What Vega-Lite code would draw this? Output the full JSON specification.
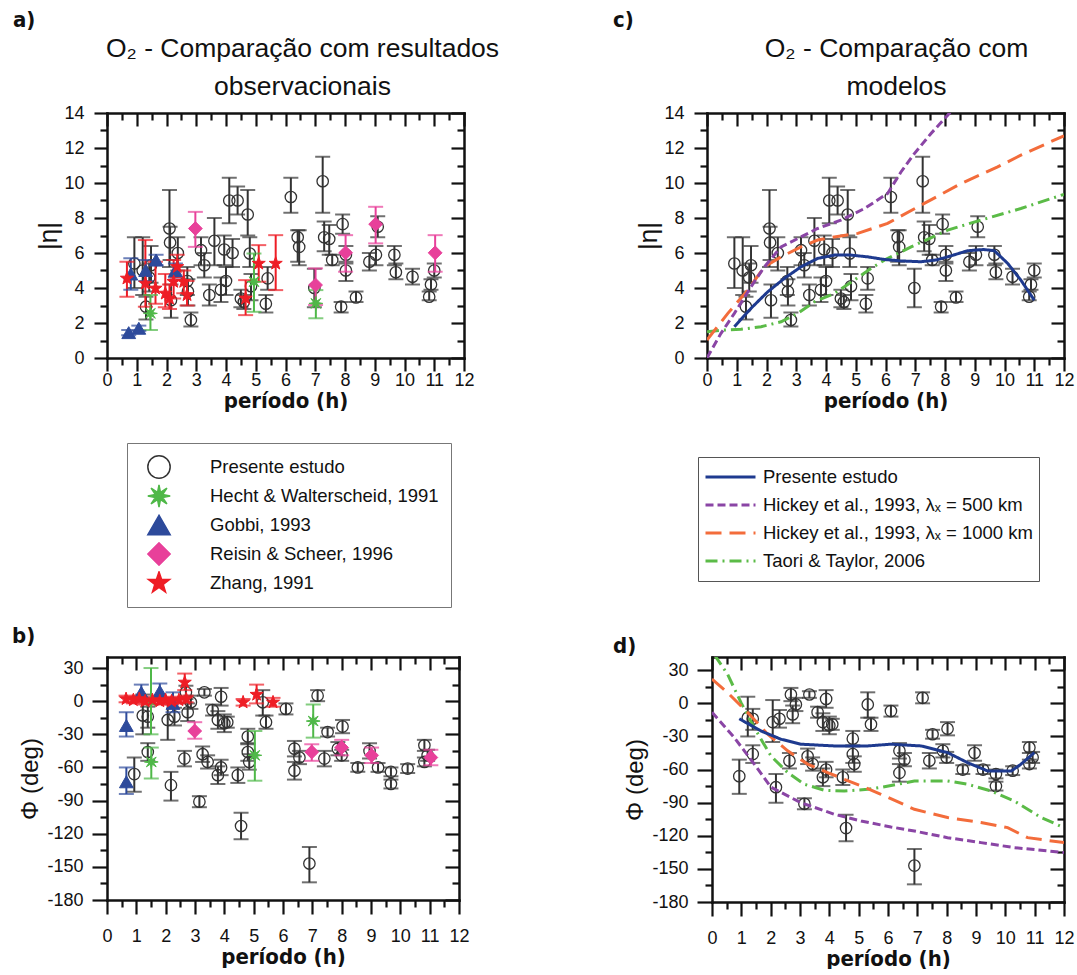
{
"$schema": "https://vega.github.io/schema/vega-lite/v6.json",
"background": "white",
"padding": {"left": 12, "top": 8, "right": 0, "bottom": 0},
"config": {"view": {"stroke": null}, "axis": {"grid": false}, "font": "Liberation Sans"},
"datasets": {
"ampPS": [
{"x":0.92,"y":5.4,"lo":4.0,"hi":6.9},{"x":1.2,"y":5.0,"lo":3.6,"hi":6.9},{"x":1.31,"y":2.93,"lo":2.2,"hi":3.5},{"x":1.42,"y":4.6,"lo":3.8,"hi":5.4},{"x":1.48,"y":5.3,"lo":4.3,"hi":6.4},
{"x":2.1,"y":7.4,"lo":5.2,"hi":9.6},{"x":2.12,"y":6.6,"lo":5.6,"hi":7.5},{"x":2.15,"y":3.3,"lo":2.3,"hi":4.2},{"x":2.38,"y":6.0,"lo":5.0,"hi":6.9},{"x":2.7,"y":4.4,"lo":3.6,"hi":5.2},
{"x":2.72,"y":3.8,"lo":3.0,"hi":4.5},{"x":2.82,"y":2.17,"lo":1.8,"hi":2.6},{"x":3.16,"y":6.16,"lo":5.3,"hi":6.9},{"x":3.27,"y":5.3,"lo":4.6,"hi":6.0},{"x":3.44,"y":3.6,"lo":3.0,"hi":4.2},
{"x":3.61,"y":6.7,"lo":5.3,"hi":8.0},{"x":3.83,"y":3.9,"lo":3.2,"hi":4.6},{"x":3.94,"y":6.2,"lo":5.3,"hi":7.0},{"x":4.0,"y":4.4,"lo":3.6,"hi":5.2},{"x":4.11,"y":9.0,"lo":7.7,"hi":10.3},
{"x":4.22,"y":6.0,"lo":5.2,"hi":6.8},{"x":4.39,"y":9.0,"lo":8.2,"hi":9.8},{"x":4.5,"y":3.4,"lo":2.9,"hi":3.9},{"x":4.6,"y":3.2,"lo":2.8,"hi":3.6},{"x":4.73,"y":8.2,"lo":7.0,"hi":9.6},
{"x":4.8,"y":5.97,"lo":5.2,"hi":6.9},{"x":4.84,"y":4.1,"lo":3.3,"hi":4.8},{"x":5.34,"y":3.1,"lo":2.6,"hi":3.6},{"x":5.4,"y":4.55,"lo":3.9,"hi":5.2},{"x":6.18,"y":9.2,"lo":8.3,"hi":10.3},
{"x":6.41,"y":6.9,"lo":5.5,"hi":7.3},{"x":6.46,"y":6.35,"lo":5.3,"hi":7.3},{"x":6.97,"y":4.0,"lo":2.9,"hi":5.1},{"x":7.25,"y":10.1,"lo":8.3,"hi":11.5},{"x":7.3,"y":6.9,"lo":6.1,"hi":7.8},
{"x":7.47,"y":6.8,"lo":5.9,"hi":7.6},{"x":7.57,"y":5.6,"lo":5.3,"hi":5.9},{"x":7.92,"y":7.65,"lo":7.1,"hi":8.2},{"x":8.03,"y":5.9,"lo":5.4,"hi":6.4},{"x":8.03,"y":5.0,"lo":4.4,"hi":5.5},
{"x":7.87,"y":2.93,"lo":2.6,"hi":3.2},{"x":8.37,"y":3.46,"lo":3.2,"hi":3.8},{"x":8.82,"y":5.5,"lo":5.0,"hi":6.0},{"x":9.04,"y":5.9,"lo":5.3,"hi":6.4},{"x":9.1,"y":7.5,"lo":6.9,"hi":8.1},
{"x":9.66,"y":5.9,"lo":5.3,"hi":6.4},{"x":9.71,"y":4.9,"lo":4.5,"hi":5.4},{"x":10.27,"y":4.64,"lo":4.2,"hi":5.1},{"x":10.89,"y":4.2,"lo":3.9,"hi":4.5},{"x":10.83,"y":3.5,"lo":3.3,"hi":3.8},
{"x":11.0,"y":5.0,"lo":4.6,"hi":5.4}
],
"phPS": [
{"x":0.93,"y":-66,"lo":-82,"hi":-51},{"x":1.22,"y":-13,"lo":-30,"hi":6},{"x":1.39,"y":-14,"lo":-24,"hi":-5},{"x":1.39,"y":-46,"lo":-54,"hi":-38},{"x":2.07,"y":-17,"lo":-35,"hi":3},
{"x":2.3,"y":-14,"lo":-22,"hi":-6},{"x":2.18,"y":-76,"lo":-90,"hi":-64},{"x":2.64,"y":-52,"lo":-59,"hi":-45},{"x":2.69,"y":8,"lo":2,"hi":14},{"x":2.86,"y":-1,"lo":-7,"hi":5},
{"x":2.75,"y":-10,"lo":-18,"hi":-2},{"x":3.15,"y":-91,"lo":-96,"hi":-86},{"x":3.26,"y":-48,"lo":-55,"hi":-41},{"x":3.32,"y":8,"lo":5,"hi":11},{"x":3.43,"y":-55,"lo":-61,"hi":-49},
{"x":3.6,"y":-8,"lo":-13,"hi":-3},{"x":3.89,"y":4,"lo":-4,"hi":12},{"x":3.78,"y":-17,"lo":-25,"hi":-9},{"x":3.78,"y":-67,"lo":-75,"hi":-59},{"x":3.89,"y":-60,"lo":-67,"hi":-53},
{"x":4.0,"y":-20,"lo":-28,"hi":-12},{"x":4.1,"y":-19,"lo":-24,"hi":-14},{"x":4.46,"y":-67,"lo":-74,"hi":-60},{"x":4.57,"y":-113,"lo":-125,"hi":-101},{"x":4.8,"y":-46,"lo":-54,"hi":-38},
{"x":4.85,"y":-55,"lo":-62,"hi":-48},{"x":4.8,"y":-32,"lo":-39,"hi":-25},{"x":5.31,"y":-1,"lo":-13,"hi":10},{"x":5.42,"y":-19,"lo":-25,"hi":-13},{"x":6.1,"y":-7,"lo":-12,"hi":-2},
{"x":6.39,"y":-43,"lo":-50,"hi":-36},{"x":6.56,"y":-51,"lo":-57,"hi":-45},{"x":6.39,"y":-63,"lo":-71,"hi":-55},{"x":6.9,"y":-147,"lo":-164,"hi":-132},{"x":7.18,"y":5,"lo":0,"hi":10},
{"x":7.41,"y":-52,"lo":-59,"hi":-45},{"x":7.52,"y":-28,"lo":-32,"hi":-24},{"x":8.03,"y":-23,"lo":-29,"hi":-17},{"x":7.87,"y":-43,"lo":-49,"hi":-37},{"x":8.0,"y":-49,"lo":-54,"hi":-44},
{"x":8.55,"y":-60,"lo":-64,"hi":-56},{"x":8.95,"y":-45,"lo":-52,"hi":-38},{"x":9.24,"y":-60,"lo":-64,"hi":-56},{"x":9.68,"y":-64,"lo":-68,"hi":-60},{"x":9.68,"y":-75,"lo":-79,"hi":-71},
{"x":10.25,"y":-61,"lo":-65,"hi":-57},{"x":10.82,"y":-40,"lo":-45,"hi":-35},{"x":10.93,"y":-49,"lo":-54,"hi":-44},{"x":10.82,"y":-55,"lo":-59,"hi":-51}
],
"ampObs": [
{"s":"Hecht & Walterscheid, 1991","x":1.46,"y":2.55,"lo":1.6,"hi":3.6},
{"s":"Hecht & Walterscheid, 1991","x":4.94,"y":4.36,"lo":2.64,"hi":5.97},
{"s":"Hecht & Walterscheid, 1991","x":7.02,"y":3.12,"lo":2.27,"hi":3.88},
{"s":"Gobbi, 1993","x":0.73,"y":1.45,"lo":1.3,"hi":1.6},
{"s":"Gobbi, 1993","x":1.07,"y":1.7,"lo":1.55,"hi":1.85},
{"s":"Gobbi, 1993","x":0.8,"y":4.8,"lo":3.9,"hi":5.7},
{"s":"Gobbi, 1993","x":1.3,"y":5.0,"lo":4.4,"hi":5.6},
{"s":"Gobbi, 1993","x":1.65,"y":5.6,"lo":5.3,"hi":5.9},
{"s":"Gobbi, 1993","x":2.3,"y":5.0,"lo":4.6,"hi":5.4},
{"s":"Reisin & Scheer, 1996","x":2.97,"y":7.4,"lo":6.35,"hi":8.35},
{"s":"Reisin & Scheer, 1996","x":7.01,"y":4.17,"lo":3.03,"hi":5.12},
{"s":"Reisin & Scheer, 1996","x":8.02,"y":6.01,"lo":4.93,"hi":7.02},
{"s":"Reisin & Scheer, 1996","x":9.03,"y":7.65,"lo":6.55,"hi":8.64},
{"s":"Reisin & Scheer, 1996","x":11.03,"y":6.01,"lo":4.93,"hi":7.02},
{"s":"Zhang, 1991","x":0.67,"y":4.55,"lo":3.5,"hi":5.5},
{"s":"Zhang, 1991","x":1.29,"y":4.26,"lo":2.93,"hi":6.74},
{"s":"Zhang, 1991","x":1.63,"y":3.98,"lo":3.1,"hi":5.5},
{"s":"Zhang, 1991","x":1.96,"y":3.69,"lo":2.9,"hi":4.8},
{"s":"Zhang, 1991","x":2.1,"y":3.4,"lo":2.8,"hi":4.2},
{"s":"Zhang, 1991","x":2.24,"y":4.36,"lo":3.4,"hi":5.6},
{"s":"Zhang, 1991","x":2.36,"y":5.21,"lo":4.6,"hi":5.9},
{"s":"Zhang, 1991","x":2.58,"y":4.36,"lo":3.7,"hi":5.0},
{"s":"Zhang, 1991","x":2.69,"y":3.6,"lo":3.0,"hi":4.4},
{"s":"Zhang, 1991","x":4.66,"y":3.41,"lo":2.45,"hi":4.45},
{"s":"Zhang, 1991","x":5.1,"y":5.4,"lo":4.36,"hi":6.45},
{"s":"Zhang, 1991","x":5.67,"y":5.4,"lo":3.88,"hi":7.02}
],
"phObs": [
{"s":"Hecht & Walterscheid, 1991","x":1.5,"y":0,"lo":-30,"hi":30},
{"s":"Hecht & Walterscheid, 1991","x":1.51,"y":-55,"lo":-70,"hi":-42},
{"s":"Hecht & Walterscheid, 1991","x":5.04,"y":-49,"lo":-72,"hi":-27},
{"s":"Hecht & Walterscheid, 1991","x":7.03,"y":-18,"lo":-33,"hi":-3},
{"s":"Gobbi, 1993","x":0.66,"y":-22,"lo":-32,"hi":-10},
{"s":"Gobbi, 1993","x":0.66,"y":-73,"lo":-84,"hi":-60},
{"s":"Gobbi, 1993","x":1.17,"y":8,"lo":2,"hi":15},
{"s":"Gobbi, 1993","x":1.8,"y":9,"lo":2,"hi":16},
{"s":"Gobbi, 1993","x":2.25,"y":-2,"lo":-10,"hi":8},
{"s":"Reisin & Scheer, 1996","x":2.99,"y":-27,"lo":-34,"hi":-19},
{"s":"Reisin & Scheer, 1996","x":6.98,"y":-46,"lo":-54,"hi":-39},
{"s":"Reisin & Scheer, 1996","x":8.0,"y":-42,"lo":-49,"hi":-35},
{"s":"Reisin & Scheer, 1996","x":9.02,"y":-49,"lo":-56,"hi":-42},
{"s":"Reisin & Scheer, 1996","x":11.04,"y":-51,"lo":-58,"hi":-44},
{"s":"Zhang, 1991","x":0.65,"y":2,"lo":-1,"hi":5},
{"s":"Zhang, 1991","x":0.9,"y":1,"lo":-2,"hi":4},
{"s":"Zhang, 1991","x":1.1,"y":2,"lo":-1,"hi":5},
{"s":"Zhang, 1991","x":1.3,"y":0,"lo":-3,"hi":3},
{"s":"Zhang, 1991","x":1.55,"y":1,"lo":-2,"hi":4},
{"s":"Zhang, 1991","x":1.8,"y":0,"lo":-3,"hi":3},
{"s":"Zhang, 1991","x":2.0,"y":1,"lo":-2,"hi":4},
{"s":"Zhang, 1991","x":2.2,"y":0,"lo":-3,"hi":3},
{"s":"Zhang, 1991","x":2.45,"y":1,"lo":-2,"hi":4},
{"s":"Zhang, 1991","x":2.65,"y":17,"lo":10,"hi":25},
{"s":"Zhang, 1991","x":2.7,"y":2,"lo":-1,"hi":5},
{"s":"Zhang, 1991","x":4.64,"y":-1,"lo":-4,"hi":2},
{"s":"Zhang, 1991","x":5.1,"y":6,"lo":-2,"hi":15},
{"s":"Zhang, 1991","x":5.66,"y":-1,"lo":-5,"hi":3}
],
"ampModel": [
{"m":"Taori & Taylor, 2006","x":0,"y":1.5},{"m":"Taori & Taylor, 2006","x":0.53,"y":1.6},{"m":"Taori & Taylor, 2006","x":1.14,"y":1.64},{"m":"Taori & Taylor, 2006","x":1.82,"y":1.79},{"m":"Taori & Taylor, 2006","x":2.49,"y":2.07},{"m":"Taori & Taylor, 2006","x":3.05,"y":2.55},{"m":"Taori & Taylor, 2006","x":3.61,"y":3.21},{"m":"Taori & Taylor, 2006","x":4.28,"y":3.69},{"m":"Taori & Taylor, 2006","x":4.95,"y":4.45},{"m":"Taori & Taylor, 2006","x":5.51,"y":5.12},{"m":"Taori & Taylor, 2006","x":5.96,"y":5.59},{"m":"Taori & Taylor, 2006","x":6.86,"y":6.35},{"m":"Taori & Taylor, 2006","x":8.09,"y":7.31},{"m":"Taori & Taylor, 2006","x":9.21,"y":7.88},{"m":"Taori & Taylor, 2006","x":10.55,"y":8.54},{"m":"Taori & Taylor, 2006","x":12,"y":9.35},
{"m":"Hickey et al., 1993, λₓ = 1000 km","x":0,"y":1.03},{"m":"Hickey et al., 1993, λₓ = 1000 km","x":0.7,"y":2.55},{"m":"Hickey et al., 1993, λₓ = 1000 km","x":1.37,"y":3.88},{"m":"Hickey et al., 1993, λₓ = 1000 km","x":1.93,"y":5.21},{"m":"Hickey et al., 1993, λₓ = 1000 km","x":2.49,"y":5.78},{"m":"Hickey et al., 1993, λₓ = 1000 km","x":3.16,"y":6.35},{"m":"Hickey et al., 1993, λₓ = 1000 km","x":3.72,"y":6.74},{"m":"Hickey et al., 1993, λₓ = 1000 km","x":4.28,"y":6.92},{"m":"Hickey et al., 1993, λₓ = 1000 km","x":5.07,"y":7.12},{"m":"Hickey et al., 1993, λₓ = 1000 km","x":6.07,"y":7.69},{"m":"Hickey et al., 1993, λₓ = 1000 km","x":7.19,"y":8.73},{"m":"Hickey et al., 1993, λₓ = 1000 km","x":8.54,"y":9.97},{"m":"Hickey et al., 1993, λₓ = 1000 km","x":9.77,"y":10.92},{"m":"Hickey et al., 1993, λₓ = 1000 km","x":10.55,"y":11.59},{"m":"Hickey et al., 1993, λₓ = 1000 km","x":12,"y":12.7},
{"m":"Hickey et al., 1993, λₓ = 500 km","x":0,"y":0},{"m":"Hickey et al., 1993, λₓ = 500 km","x":0.47,"y":1.41},{"m":"Hickey et al., 1993, λₓ = 500 km","x":0.92,"y":2.55},{"m":"Hickey et al., 1993, λₓ = 500 km","x":1.48,"y":4.07},{"m":"Hickey et al., 1993, λₓ = 500 km","x":1.93,"y":5.21},{"m":"Hickey et al., 1993, λₓ = 500 km","x":2.49,"y":6.35},{"m":"Hickey et al., 1993, λₓ = 500 km","x":3.16,"y":6.92},{"m":"Hickey et al., 1993, λₓ = 500 km","x":3.72,"y":7.4},{"m":"Hickey et al., 1993, λₓ = 500 km","x":4.5,"y":7.88},{"m":"Hickey et al., 1993, λₓ = 500 km","x":5.29,"y":8.54},{"m":"Hickey et al., 1993, λₓ = 500 km","x":6.07,"y":9.4},{"m":"Hickey et al., 1993, λₓ = 500 km","x":6.52,"y":10.63},{"m":"Hickey et al., 1993, λₓ = 500 km","x":6.97,"y":11.68},{"m":"Hickey et al., 1993, λₓ = 500 km","x":7.53,"y":12.83},{"m":"Hickey et al., 1993, λₓ = 500 km","x":8.09,"y":13.87},{"m":"Hickey et al., 1993, λₓ = 500 km","x":8.3,"y":14.3},
{"m":"Presente estudo","x":0.92,"y":1.79},{"m":"Presente estudo","x":1.48,"y":2.84},{"m":"Presente estudo","x":2.04,"y":3.78},{"m":"Presente estudo","x":2.6,"y":4.55},{"m":"Presente estudo","x":3.16,"y":5.21},{"m":"Presente estudo","x":3.72,"y":5.69},{"m":"Presente estudo","x":4.28,"y":5.88},{"m":"Presente estudo","x":4.84,"y":5.88},{"m":"Presente estudo","x":5.4,"y":5.78},{"m":"Presente estudo","x":5.96,"y":5.63},{"m":"Presente estudo","x":6.5,"y":5.55},{"m":"Presente estudo","x":7.19,"y":5.5},{"m":"Presente estudo","x":7.7,"y":5.6},{"m":"Presente estudo","x":8.09,"y":5.78},{"m":"Presente estudo","x":8.76,"y":6.13},{"m":"Presente estudo","x":9.3,"y":6.2},{"m":"Presente estudo","x":9.66,"y":6.13},{"m":"Presente estudo","x":10.11,"y":5.4},{"m":"Presente estudo","x":10.55,"y":4.45},{"m":"Presente estudo","x":11.0,"y":3.31}
],
"phModel": [
{"m":"Taori & Taylor, 2006","x":0.08,"y":44},{"m":"Taori & Taylor, 2006","x":0.53,"y":26.4},{"m":"Taori & Taylor, 2006","x":0.99,"y":0.7},{"m":"Taori & Taylor, 2006","x":1.44,"y":-22},{"m":"Taori & Taylor, 2006","x":2.01,"y":-47.7},{"m":"Taori & Taylor, 2006","x":2.58,"y":-62.7},{"m":"Taori & Taylor, 2006","x":3.15,"y":-73.3},{"m":"Taori & Taylor, 2006","x":3.83,"y":-78.8},{"m":"Taori & Taylor, 2006","x":4.51,"y":-79.4},{"m":"Taori & Taylor, 2006","x":5.31,"y":-77.9},{"m":"Taori & Taylor, 2006","x":5.82,"y":-75.8},{"m":"Taori & Taylor, 2006","x":6.33,"y":-73.3},{"m":"Taori & Taylor, 2006","x":6.9,"y":-70.3},{"m":"Taori & Taylor, 2006","x":8.03,"y":-70.3},{"m":"Taori & Taylor, 2006","x":8.71,"y":-73.3},{"m":"Taori & Taylor, 2006","x":9.51,"y":-79.4},{"m":"Taori & Taylor, 2006","x":10.3,"y":-88.4},{"m":"Taori & Taylor, 2006","x":11.22,"y":-103.5},{"m":"Taori & Taylor, 2006","x":12,"y":-112.6},
{"m":"Hickey et al., 1993, λₓ = 1000 km","x":0,"y":22},{"m":"Hickey et al., 1993, λₓ = 1000 km","x":0.53,"y":9.8},{"m":"Hickey et al., 1993, λₓ = 1000 km","x":1.33,"y":-11.4},{"m":"Hickey et al., 1993, λₓ = 1000 km","x":1.9,"y":-28},{"m":"Hickey et al., 1993, λₓ = 1000 km","x":2.58,"y":-43},{"m":"Hickey et al., 1993, λₓ = 1000 km","x":3.26,"y":-55},{"m":"Hickey et al., 1993, λₓ = 1000 km","x":3.94,"y":-62.7},{"m":"Hickey et al., 1993, λₓ = 1000 km","x":4.51,"y":-68.8},{"m":"Hickey et al., 1993, λₓ = 1000 km","x":5.08,"y":-74.8},{"m":"Hickey et al., 1993, λₓ = 1000 km","x":5.76,"y":-82.4},{"m":"Hickey et al., 1993, λₓ = 1000 km","x":6.9,"y":-96},{"m":"Hickey et al., 1993, λₓ = 1000 km","x":8.03,"y":-103.5},{"m":"Hickey et al., 1993, λₓ = 1000 km","x":9.17,"y":-108},{"m":"Hickey et al., 1993, λₓ = 1000 km","x":10.08,"y":-112.6},{"m":"Hickey et al., 1993, λₓ = 1000 km","x":10.76,"y":-121.7},{"m":"Hickey et al., 1993, λₓ = 1000 km","x":12,"y":-126.2},
{"m":"Hickey et al., 1993, λₓ = 500 km","x":0,"y":-8},{"m":"Hickey et al., 1993, λₓ = 500 km","x":0.76,"y":-31},{"m":"Hickey et al., 1993, λₓ = 500 km","x":1.44,"y":-55},{"m":"Hickey et al., 1993, λₓ = 500 km","x":2.01,"y":-76},{"m":"Hickey et al., 1993, λₓ = 500 km","x":3.03,"y":-90},{"m":"Hickey et al., 1993, λₓ = 500 km","x":4.17,"y":-100.5},{"m":"Hickey et al., 1993, λₓ = 500 km","x":5.08,"y":-106.6},{"m":"Hickey et al., 1993, λₓ = 500 km","x":6.1,"y":-112},{"m":"Hickey et al., 1993, λₓ = 500 km","x":6.9,"y":-115.7},{"m":"Hickey et al., 1993, λₓ = 500 km","x":8.03,"y":-121.7},{"m":"Hickey et al., 1993, λₓ = 500 km","x":9.17,"y":-126.2},{"m":"Hickey et al., 1993, λₓ = 500 km","x":10.3,"y":-130.7},{"m":"Hickey et al., 1993, λₓ = 500 km","x":12,"y":-135.2},
{"m":"Presente estudo","x":0.93,"y":-14},{"m":"Presente estudo","x":1.67,"y":-25},{"m":"Presente estudo","x":2.35,"y":-32.5},{"m":"Presente estudo","x":3.03,"y":-37},{"m":"Presente estudo","x":4.17,"y":-38.6},{"m":"Presente estudo","x":5.3,"y":-38.6},{"m":"Presente estudo","x":6.1,"y":-37},{"m":"Presente estudo","x":7.13,"y":-38.6},{"m":"Presente estudo","x":8.03,"y":-44.6},{"m":"Presente estudo","x":8.71,"y":-53.7},{"m":"Presente estudo","x":9.4,"y":-61.3},{"m":"Presente estudo","x":10.2,"y":-61.3},{"m":"Presente estudo","x":10.53,"y":-55.2},{"m":"Presente estudo","x":10.99,"y":-44.6}
]
},
"columns": 1,
"align": "none",
"spacing": 16,
"resolve": {"scale": {"color": "independent", "fill": "independent", "stroke": "independent", "shape": "independent", "strokeDash": "independent"}, "legend": {"color": "independent", "fill": "independent", "stroke": "independent", "shape": "independent", "strokeDash": "independent"}},
"concat": [
{"spacing": 113,
 "resolve": {"scale": {"color": "independent", "fill": "independent", "stroke": "independent", "shape": "independent", "strokeDash": "independent"}, "legend": {"color": "independent", "fill": "independent", "stroke": "independent", "shape": "independent", "strokeDash": "independent"}},
 "hconcat": [
 {"title": {"text": "a)", "anchor": "start", "frame": "group", "font": "DejaVu Sans Condensed, Liberation Sans, sans-serif", "fontSize": 22, "fontWeight": "bold", "color": "#111111", "offset": 4, "dx": -94},
  "resolve": {"scale": {"color": "independent", "fill": "independent", "stroke": "independent", "shape": "independent", "strokeDash": "independent"}, "legend": {"color": "independent", "fill": "independent", "stroke": "independent", "shape": "independent", "strokeDash": "independent"}},
  "vconcat": [
  {"width": 357, "height": 245,
   "title": {"text": ["O₂ - Comparação com resultados", "observacionais"], "frame": "group", "anchor": "middle", "font": "Liberation Sans", "fontSize": 26.5, "fontWeight": "normal", "lineHeight": 38, "offset": 4, "dx": 17, "color": "#111111"},
   "resolve": {"axis": {"x": "independent", "y": "independent"}},
   "layer": [
    {"data": {"name": "ampPS"}, "mark": {"type": "rule", "color": "#333333", "strokeWidth": 2},
     "encoding": {
      "x": {"field": "x", "type": "quantitative", "scale": {"domain": [0, 12], "nice": false, "zero": false},
        "axis": {"orient": "bottom", "values": [0,0.5,1,1.5,2,2.5,3,3.5,4,4.5,5,5.5,6,6.5,7,7.5,8,8.5,9,9.5,10,10.5,11,11.5,12], "labelExpr": "datum.value % 1 === 0 ? '' + datum.value : ''", "tickSize": {"condition": {"test": "datum.value % 1 === 0", "value": 13}, "value": 7}, "labelFontSize": 18, "labelFont": "Liberation Sans", "labelColor": "#111111", "labelPadding": 0, "labelOverlap": false, "labelFlush": false, "title": "período (h)", "titleFont": "DejaVu Sans Condensed, Liberation Sans, sans-serif", "titleFontWeight": "bold", "titleFontSize": 22, "titleColor": "#111111", "titlePadding": 1, "domainColor": "#111111", "domainWidth": 2.5, "domainCap": "square", "tickColor": "#111111", "tickWidth": 2.2}},
      "y": {"field": "lo", "type": "quantitative", "scale": {"domain": [0, 14], "nice": false, "zero": false},
        "axis": {"orient": "left", "values": [0,1,2,3,4,5,6,7,8,9,10,11,12,13,14], "labelExpr": "datum.value % 2 === 0 ? '' + datum.value : ''", "tickSize": {"condition": {"test": "datum.value % 2 === 0", "value": 13}, "value": 7}, "labelFontSize": 18, "labelFont": "Liberation Sans", "labelColor": "#111111", "labelPadding": 10, "labelOverlap": false, "labelFlush": false, "title": "|η|", "titleFont": "Liberation Sans", "titleFontWeight": "normal", "titleFontSize": 26, "titleColor": "#111111", "titlePadding": 2, "domainColor": "#111111", "domainWidth": 2.5, "domainCap": "square", "tickColor": "#111111", "tickWidth": 2.2}},
      "y2": {"field": "hi"}}},
    {"data": {"name": "ampPS"}, "mark": {"type": "tick", "orient": "horizontal", "color": "#333333", "size": 15, "thickness": 2},
     "encoding": {"x": {"field": "x", "type": "quantitative", "axis": null}, "y": {"field": "lo", "type": "quantitative", "axis": null}}},
    {"data": {"name": "ampPS"}, "mark": {"type": "tick", "orient": "horizontal", "color": "#333333", "size": 15, "thickness": 2},
     "encoding": {"x": {"field": "x", "type": "quantitative", "axis": null}, "y": {"field": "hi", "type": "quantitative", "axis": null}}},
    {"data": {"name": "ampPS"}, "mark": {"type": "point", "shape": "circle", "size": 130, "stroke": "#333333", "strokeWidth": 1.3, "filled": false, "opacity": 1},
     "encoding": {
      "x": {"field": "x", "type": "quantitative", "axis": {"orient": "top", "values": [0,0.5,1,1.5,2,2.5,3,3.5,4,4.5,5,5.5,6,6.5,7,7.5,8,8.5,9,9.5,10,10.5,11,11.5,12], "labels": false, "title": null, "tickSize": {"condition": {"test": "datum.value % 1 === 0", "value": -13}, "value": -7}, "domainColor": "#111111", "domainWidth": 2.5, "domainCap": "square", "tickColor": "#111111", "tickWidth": 2.2}},
      "y": {"field": "y", "type": "quantitative", "axis": {"orient": "right", "values": [0,1,2,3,4,5,6,7,8,9,10,11,12,13,14], "labels": false, "title": null, "tickSize": {"condition": {"test": "datum.value % 2 === 0", "value": -13}, "value": -7}, "domainColor": "#111111", "domainWidth": 2.5, "domainCap": "square", "tickColor": "#111111", "tickWidth": 2.2}}}},
    {"data": {"name": "ampObs"}, "mark": {"type": "rule", "strokeWidth": 2},
     "encoding": {"x": {"field": "x", "type": "quantitative", "axis": null}, "y": {"field": "lo", "type": "quantitative", "axis": null}, "y2": {"field": "hi"},
      "color": {"field": "s", "type": "nominal", "scale": {"domain": ["Hecht & Walterscheid, 1991","Gobbi, 1993","Reisin & Scheer, 1996","Zhang, 1991"], "range": ["#4fb848","#2d4a9b","#e8409a","#ee1d25"]}, "legend": null}}},
    {"data": {"name": "ampObs"}, "mark": {"type": "tick", "orient": "horizontal", "size": 15, "thickness": 2},
     "encoding": {"x": {"field": "x", "type": "quantitative", "axis": null}, "y": {"field": "lo", "type": "quantitative", "axis": null},
      "color": {"field": "s", "type": "nominal", "legend": null}}},
    {"data": {"name": "ampObs"}, "mark": {"type": "tick", "orient": "horizontal", "size": 15, "thickness": 2},
     "encoding": {"x": {"field": "x", "type": "quantitative", "axis": null}, "y": {"field": "hi", "type": "quantitative", "axis": null},
      "color": {"field": "s", "type": "nominal", "legend": null}}},
    {"data": {"name": "ampObs"}, "mark": {"type": "point", "filled": true, "size": 190, "strokeWidth": 1, "opacity": 1},
     "encoding": {"x": {"field": "x", "type": "quantitative", "axis": null}, "y": {"field": "y", "type": "quantitative", "axis": null},
      "shape": {"field": "s", "type": "nominal", "scale": {"domain": ["Presente estudo","Hecht & Walterscheid, 1991","Gobbi, 1993","Reisin & Scheer, 1996","Zhang, 1991"], "range": ["circle","M1,0L0.32,0.13L0.71,0.71L0.13,0.32L0,1L-0.13,0.32L-0.71,0.71L-0.32,0.13L-1,0L-0.32,-0.13L-0.71,-0.71L-0.13,-0.32L0,-1L0.13,-0.32L0.71,-0.71L0.32,-0.13Z","triangle-up","diamond","M0,-1L0.235,-0.324L0.951,-0.309L0.38,0.124L0.588,0.809L0,0.4L-0.588,0.809L-0.38,0.124L-0.951,-0.309L-0.235,-0.324Z"]},
        "legend": {"orient": "none", "legendX": 20, "legendY": 330, "title": null, "padding": 12, "strokeColor": "#777777", "fillColor": "white", "symbolSize": 500, "symbolStrokeWidth": 1.5, "symbolOffset": 8, "labelOffset": 39, "labelFontSize": 18.5, "labelFont": "Liberation Sans", "labelColor": "#111111", "labelLimit": 400, "clipHeight": 24, "rowPadding": 5}},
      "fill": {"field": "s", "type": "nominal", "scale": {"domain": ["Presente estudo","Hecht & Walterscheid, 1991","Gobbi, 1993","Reisin & Scheer, 1996","Zhang, 1991"], "range": ["transparent","#4fb848","#2d4a9b","#e8409a","#ee1d25"]},
        "legend": {"orient": "none", "legendX": 20, "legendY": 330, "title": null, "padding": 12, "strokeColor": "#777777", "fillColor": "white", "symbolSize": 500, "symbolStrokeWidth": 1.5, "symbolOffset": 8, "labelOffset": 39, "labelFontSize": 18.5, "labelFont": "Liberation Sans", "labelColor": "#111111", "labelLimit": 400, "clipHeight": 24, "rowPadding": 5}},
      "stroke": {"field": "s", "type": "nominal", "scale": {"domain": ["Presente estudo","Hecht & Walterscheid, 1991","Gobbi, 1993","Reisin & Scheer, 1996","Zhang, 1991"], "range": ["#333333","#4fb848","#2d4a9b","#e8409a","#ee1d25"]},
        "legend": {"orient": "none", "legendX": 20, "legendY": 330, "title": null, "padding": 12, "strokeColor": "#777777", "fillColor": "white", "symbolSize": 500, "symbolStrokeWidth": 1.5, "symbolOffset": 8, "labelOffset": 39, "labelFontSize": 18.5, "labelFont": "Liberation Sans", "labelColor": "#111111", "labelLimit": 400, "clipHeight": 24, "rowPadding": 5}}}}
   ]}
 ]},
 {"title": {"text": "c)", "anchor": "start", "frame": "group", "font": "DejaVu Sans Condensed, Liberation Sans, sans-serif", "fontSize": 22, "fontWeight": "bold", "color": "#111111", "offset": 4, "dx": -94},
  "resolve": {"scale": {"color": "independent", "fill": "independent", "stroke": "independent", "shape": "independent", "strokeDash": "independent"}, "legend": {"color": "independent", "fill": "independent", "stroke": "independent", "shape": "independent", "strokeDash": "independent"}},
  "vconcat": [
  {"width": 357, "height": 245,
   "title": {"text": ["O₂ - Comparação com", "modelos"], "frame": "group", "anchor": "middle", "font": "Liberation Sans", "fontSize": 26.5, "fontWeight": "normal", "lineHeight": 38, "offset": 4, "dx": 11, "color": "#111111"},
   "resolve": {"axis": {"x": "independent", "y": "independent"}},
   "layer": [
    {"data": {"name": "ampPS"}, "mark": {"type": "rule", "color": "#333333", "strokeWidth": 2},
     "encoding": {
      "x": {"field": "x", "type": "quantitative", "scale": {"domain": [0, 12], "nice": false, "zero": false},
        "axis": {"orient": "bottom", "values": [0,0.5,1,1.5,2,2.5,3,3.5,4,4.5,5,5.5,6,6.5,7,7.5,8,8.5,9,9.5,10,10.5,11,11.5,12], "labelExpr": "datum.value % 1 === 0 ? '' + datum.value : ''", "tickSize": {"condition": {"test": "datum.value % 1 === 0", "value": 13}, "value": 7}, "labelFontSize": 18, "labelFont": "Liberation Sans", "labelColor": "#111111", "labelPadding": 0, "labelOverlap": false, "labelFlush": false, "title": "período (h)", "titleFont": "DejaVu Sans Condensed, Liberation Sans, sans-serif", "titleFontWeight": "bold", "titleFontSize": 22, "titleColor": "#111111", "titlePadding": 1, "domainColor": "#111111", "domainWidth": 2.5, "domainCap": "square", "tickColor": "#111111", "tickWidth": 2.2}},
      "y": {"field": "lo", "type": "quantitative", "scale": {"domain": [0, 14], "nice": false, "zero": false},
        "axis": {"orient": "left", "values": [0,1,2,3,4,5,6,7,8,9,10,11,12,13,14], "labelExpr": "datum.value % 2 === 0 ? '' + datum.value : ''", "tickSize": {"condition": {"test": "datum.value % 2 === 0", "value": 13}, "value": 7}, "labelFontSize": 18, "labelFont": "Liberation Sans", "labelColor": "#111111", "labelPadding": 10, "labelOverlap": false, "labelFlush": false, "title": "|η|", "titleFont": "Liberation Sans", "titleFontWeight": "normal", "titleFontSize": 26, "titleColor": "#111111", "titlePadding": 2, "domainColor": "#111111", "domainWidth": 2.5, "domainCap": "square", "tickColor": "#111111", "tickWidth": 2.2}},
      "y2": {"field": "hi"}}},
    {"data": {"name": "ampPS"}, "mark": {"type": "tick", "orient": "horizontal", "color": "#333333", "size": 15, "thickness": 2},
     "encoding": {"x": {"field": "x", "type": "quantitative", "axis": null}, "y": {"field": "lo", "type": "quantitative", "axis": null}}},
    {"data": {"name": "ampPS"}, "mark": {"type": "tick", "orient": "horizontal", "color": "#333333", "size": 15, "thickness": 2},
     "encoding": {"x": {"field": "x", "type": "quantitative", "axis": null}, "y": {"field": "hi", "type": "quantitative", "axis": null}}},
    {"data": {"name": "ampPS"}, "mark": {"type": "point", "shape": "circle", "size": 130, "stroke": "#333333", "strokeWidth": 1.3, "filled": false, "opacity": 1},
     "encoding": {
      "x": {"field": "x", "type": "quantitative", "axis": {"orient": "top", "values": [0,0.5,1,1.5,2,2.5,3,3.5,4,4.5,5,5.5,6,6.5,7,7.5,8,8.5,9,9.5,10,10.5,11,11.5,12], "labels": false, "title": null, "tickSize": {"condition": {"test": "datum.value % 1 === 0", "value": -13}, "value": -7}, "domainColor": "#111111", "domainWidth": 2.5, "domainCap": "square", "tickColor": "#111111", "tickWidth": 2.2}},
      "y": {"field": "y", "type": "quantitative", "axis": {"orient": "right", "values": [0,1,2,3,4,5,6,7,8,9,10,11,12,13,14], "labels": false, "title": null, "tickSize": {"condition": {"test": "datum.value % 2 === 0", "value": -13}, "value": -7}, "domainColor": "#111111", "domainWidth": 2.5, "domainCap": "square", "tickColor": "#111111", "tickWidth": 2.2}}}},
    {"data": {"name": "ampModel"}, "mark": {"type": "line", "strokeWidth": 3, "clip": true},
     "encoding": {"x": {"field": "x", "type": "quantitative", "axis": null}, "y": {"field": "y", "type": "quantitative", "axis": null},
      "stroke": {"field": "m", "type": "nominal", "scale": {"domain": ["Presente estudo","Hickey et al., 1993, λₓ = 500 km","Hickey et al., 1993, λₓ = 1000 km","Taori & Taylor, 2006"], "range": ["#1e3a8f","#8a45a5","#f36c3b","#5bbb47"]},
        "legend": {"orient": "none", "legendX": -9, "legendY": 344, "title": null, "padding": 6, "strokeColor": "#555555", "fillColor": "white", "symbolType": "stroke", "symbolSize": 2500, "symbolStrokeWidth": 3, "labelOffset": 6, "labelFontSize": 18.5, "labelFont": "Liberation Sans", "labelColor": "#111111", "labelLimit": 400, "clipHeight": 28, "rowPadding": 0}},
      "strokeDash": {"field": "m", "type": "nominal", "scale": {"domain": ["Presente estudo","Hickey et al., 1993, λₓ = 500 km","Hickey et al., 1993, λₓ = 1000 km","Taori & Taylor, 2006"], "range": [[1,0],[8,4],[16,8],[12,5,2,5]]},
        "legend": {"orient": "none", "legendX": -9, "legendY": 344, "title": null, "padding": 6, "strokeColor": "#555555", "fillColor": "white", "symbolType": "stroke", "symbolSize": 2500, "symbolStrokeWidth": 3, "labelOffset": 6, "labelFontSize": 18.5, "labelFont": "Liberation Sans", "labelColor": "#111111", "labelLimit": 400, "clipHeight": 28, "rowPadding": 0}}}}
   ]}
 ]}
]},
{"spacing": 143,
 "resolve": {"scale": {"color": "independent", "fill": "independent", "stroke": "independent", "shape": "independent", "strokeDash": "independent"}, "legend": {"color": "independent", "fill": "independent", "stroke": "independent", "shape": "independent", "strokeDash": "independent"}},
 "hconcat": [
 {"title": {"text": "b)", "anchor": "start", "frame": "group", "font": "DejaVu Sans Condensed, Liberation Sans, sans-serif", "fontSize": 22, "fontWeight": "bold", "color": "#111111", "offset": 8, "dx": -95},
  "resolve": {"scale": {"color": "independent", "fill": "independent", "stroke": "independent", "shape": "independent", "strokeDash": "independent"}, "legend": {"color": "independent", "fill": "independent", "stroke": "independent", "shape": "independent", "strokeDash": "independent"}},
  "vconcat": [
  {"width": 352, "height": 243,
   "resolve": {"axis": {"x": "independent", "y": "independent"}},
   "layer": [
    {"data": {"name": "phPS"}, "mark": {"type": "rule", "color": "#333333", "strokeWidth": 2},
     "encoding": {
      "x": {"field": "x", "type": "quantitative", "scale": {"domain": [0, 12], "nice": false, "zero": false},
        "axis": {"orient": "bottom", "values": [0,0.5,1,1.5,2,2.5,3,3.5,4,4.5,5,5.5,6,6.5,7,7.5,8,8.5,9,9.5,10,10.5,11,11.5,12], "labelExpr": "datum.value % 1 === 0 ? '' + datum.value : ''", "tickSize": {"condition": {"test": "datum.value % 1 === 0", "value": 14}, "value": 7}, "labelFontSize": 18, "labelFont": "Liberation Sans", "labelColor": "#111111", "labelPadding": 13, "labelOverlap": false, "labelFlush": false, "title": "período (h)", "titleFont": "DejaVu Sans Condensed, Liberation Sans, sans-serif", "titleFontWeight": "bold", "titleFontSize": 22, "titleColor": "#111111", "titlePadding": 1, "domainColor": "#111111", "domainWidth": 2.5, "domainCap": "square", "tickColor": "#111111", "tickWidth": 2.2}},
      "y": {"field": "lo", "type": "quantitative", "scale": {"domain": [-180, 40], "nice": false, "zero": false},
        "axis": {"orient": "left", "values": [-180,-165,-150,-135,-120,-105,-90,-75,-60,-45,-30,-15,0,15,30], "labelExpr": "datum.value % 30 === 0 ? '' + datum.value : ''", "tickSize": {"condition": {"test": "datum.value % 30 === 0", "value": 15}, "value": 7}, "labelFontSize": 18, "labelFont": "Liberation Sans", "labelColor": "#111111", "labelPadding": 9, "labelOverlap": false, "labelFlush": false, "title": "Φ (deg)", "titleFont": "Liberation Sans", "titleFontWeight": "normal", "titleFontSize": 24, "titleColor": "#111111", "titlePadding": 4, "domainColor": "#111111", "domainWidth": 2.5, "domainCap": "square", "tickColor": "#111111", "tickWidth": 2.2}},
      "y2": {"field": "hi"}}},
    {"data": {"name": "phPS"}, "mark": {"type": "tick", "orient": "horizontal", "color": "#333333", "size": 15, "thickness": 2},
     "encoding": {"x": {"field": "x", "type": "quantitative", "axis": null}, "y": {"field": "lo", "type": "quantitative", "axis": null}}},
    {"data": {"name": "phPS"}, "mark": {"type": "tick", "orient": "horizontal", "color": "#333333", "size": 15, "thickness": 2},
     "encoding": {"x": {"field": "x", "type": "quantitative", "axis": null}, "y": {"field": "hi", "type": "quantitative", "axis": null}}},
    {"data": {"name": "phPS"}, "mark": {"type": "point", "shape": "circle", "size": 130, "stroke": "#333333", "strokeWidth": 1.3, "filled": false, "opacity": 1},
     "encoding": {
      "x": {"field": "x", "type": "quantitative", "axis": {"orient": "top", "values": [0,0.5,1,1.5,2,2.5,3,3.5,4,4.5,5,5.5,6,6.5,7,7.5,8,8.5,9,9.5,10,10.5,11,11.5,12], "labels": false, "title": null, "tickSize": {"condition": {"test": "datum.value % 1 === 0", "value": -13}, "value": -7}, "domainColor": "#111111", "domainWidth": 2.5, "domainCap": "square", "tickColor": "#111111", "tickWidth": 2.2}},
      "y": {"field": "y", "type": "quantitative", "axis": {"orient": "right", "values": [-180,-165,-150,-135,-120,-105,-90,-75,-60,-45,-30,-15,0,15,30], "labels": false, "title": null, "tickSize": {"condition": {"test": "datum.value % 30 === 0", "value": -14}, "value": -7}, "domainColor": "#111111", "domainWidth": 2.5, "domainCap": "square", "tickColor": "#111111", "tickWidth": 2.2}}}},
    {"data": {"name": "phObs"}, "mark": {"type": "rule", "strokeWidth": 2},
     "encoding": {"x": {"field": "x", "type": "quantitative", "axis": null}, "y": {"field": "lo", "type": "quantitative", "axis": null}, "y2": {"field": "hi"},
      "color": {"field": "s", "type": "nominal", "scale": {"domain": ["Hecht & Walterscheid, 1991","Gobbi, 1993","Reisin & Scheer, 1996","Zhang, 1991"], "range": ["#4fb848","#2d4a9b","#e8409a","#ee1d25"]}, "legend": null}}},
    {"data": {"name": "phObs"}, "mark": {"type": "tick", "orient": "horizontal", "size": 15, "thickness": 2},
     "encoding": {"x": {"field": "x", "type": "quantitative", "axis": null}, "y": {"field": "lo", "type": "quantitative", "axis": null},
      "color": {"field": "s", "type": "nominal", "legend": null}}},
    {"data": {"name": "phObs"}, "mark": {"type": "tick", "orient": "horizontal", "size": 15, "thickness": 2},
     "encoding": {"x": {"field": "x", "type": "quantitative", "axis": null}, "y": {"field": "hi", "type": "quantitative", "axis": null},
      "color": {"field": "s", "type": "nominal", "legend": null}}},
    {"data": {"name": "phObs"}, "mark": {"type": "point", "filled": true, "size": 190, "strokeWidth": 1, "opacity": 1},
     "encoding": {"x": {"field": "x", "type": "quantitative", "axis": null}, "y": {"field": "y", "type": "quantitative", "axis": null},
      "shape": {"field": "s", "type": "nominal", "scale": {"domain": ["Presente estudo","Hecht & Walterscheid, 1991","Gobbi, 1993","Reisin & Scheer, 1996","Zhang, 1991"], "range": ["circle","M1,0L0.32,0.13L0.71,0.71L0.13,0.32L0,1L-0.13,0.32L-0.71,0.71L-0.32,0.13L-1,0L-0.32,-0.13L-0.71,-0.71L-0.13,-0.32L0,-1L0.13,-0.32L0.71,-0.71L0.32,-0.13Z","triangle-up","diamond","M0,-1L0.235,-0.324L0.951,-0.309L0.38,0.124L0.588,0.809L0,0.4L-0.588,0.809L-0.38,0.124L-0.951,-0.309L-0.235,-0.324Z"]}, "legend": null},
      "fill": {"field": "s", "type": "nominal", "scale": {"domain": ["Presente estudo","Hecht & Walterscheid, 1991","Gobbi, 1993","Reisin & Scheer, 1996","Zhang, 1991"], "range": ["transparent","#4fb848","#2d4a9b","#e8409a","#ee1d25"]}, "legend": null},
      "stroke": {"field": "s", "type": "nominal", "scale": {"domain": ["Presente estudo","Hecht & Walterscheid, 1991","Gobbi, 1993","Reisin & Scheer, 1996","Zhang, 1991"], "range": ["#333333","#4fb848","#2d4a9b","#e8409a","#ee1d25"]}, "legend": null}}}
   ]}
 ]},
 {"title": {"text": "d)", "anchor": "start", "frame": "group", "font": "DejaVu Sans Condensed, Liberation Sans, sans-serif", "fontSize": 22, "fontWeight": "bold", "color": "#111111", "offset": -2, "dx": -99},
  "resolve": {"scale": {"color": "independent", "fill": "independent", "stroke": "independent", "shape": "independent", "strokeDash": "independent"}, "legend": {"color": "independent", "fill": "independent", "stroke": "independent", "shape": "independent", "strokeDash": "independent"}},
  "vconcat": [
  {"width": 352, "height": 245,
   "resolve": {"axis": {"x": "independent", "y": "independent"}},
   "layer": [
    {"data": {"name": "phPS"}, "mark": {"type": "rule", "color": "#333333", "strokeWidth": 2},
     "encoding": {
      "x": {"field": "x", "type": "quantitative", "scale": {"domain": [0, 12], "nice": false, "zero": false},
        "axis": {"orient": "bottom", "values": [0,0.5,1,1.5,2,2.5,3,3.5,4,4.5,5,5.5,6,6.5,7,7.5,8,8.5,9,9.5,10,10.5,11,11.5,12], "labelExpr": "datum.value % 1 === 0 ? '' + datum.value : ''", "tickSize": {"condition": {"test": "datum.value % 1 === 0", "value": 14}, "value": 7}, "labelFontSize": 18, "labelFont": "Liberation Sans", "labelColor": "#111111", "labelPadding": 13, "labelOverlap": false, "labelFlush": false, "title": "período (h)", "titleFont": "DejaVu Sans Condensed, Liberation Sans, sans-serif", "titleFontWeight": "bold", "titleFontSize": 22, "titleColor": "#111111", "titlePadding": 1, "domainColor": "#111111", "domainWidth": 2.5, "domainCap": "square", "tickColor": "#111111", "tickWidth": 2.2}},
      "y": {"field": "lo", "type": "quantitative", "scale": {"domain": [-180, 42], "nice": false, "zero": false},
        "axis": {"orient": "left", "values": [-180,-165,-150,-135,-120,-105,-90,-75,-60,-45,-30,-15,0,15,30], "labelExpr": "datum.value % 30 === 0 ? '' + datum.value : ''", "tickSize": {"condition": {"test": "datum.value % 30 === 0", "value": 15}, "value": 7}, "labelFontSize": 18, "labelFont": "Liberation Sans", "labelColor": "#111111", "labelPadding": 9, "labelOverlap": false, "labelFlush": false, "title": "Φ (deg)", "titleFont": "Liberation Sans", "titleFontWeight": "normal", "titleFontSize": 24, "titleColor": "#111111", "titlePadding": 4, "domainColor": "#111111", "domainWidth": 2.5, "domainCap": "square", "tickColor": "#111111", "tickWidth": 2.2}},
      "y2": {"field": "hi"}}},
    {"data": {"name": "phPS"}, "mark": {"type": "tick", "orient": "horizontal", "color": "#333333", "size": 15, "thickness": 2},
     "encoding": {"x": {"field": "x", "type": "quantitative", "axis": null}, "y": {"field": "lo", "type": "quantitative", "axis": null}}},
    {"data": {"name": "phPS"}, "mark": {"type": "tick", "orient": "horizontal", "color": "#333333", "size": 15, "thickness": 2},
     "encoding": {"x": {"field": "x", "type": "quantitative", "axis": null}, "y": {"field": "hi", "type": "quantitative", "axis": null}}},
    {"data": {"name": "phPS"}, "mark": {"type": "point", "shape": "circle", "size": 130, "stroke": "#333333", "strokeWidth": 1.3, "filled": false, "opacity": 1},
     "encoding": {
      "x": {"field": "x", "type": "quantitative", "axis": {"orient": "top", "values": [0,0.5,1,1.5,2,2.5,3,3.5,4,4.5,5,5.5,6,6.5,7,7.5,8,8.5,9,9.5,10,10.5,11,11.5,12], "labels": false, "title": null, "tickSize": {"condition": {"test": "datum.value % 1 === 0", "value": -13}, "value": -7}, "domainColor": "#111111", "domainWidth": 2.5, "domainCap": "square", "tickColor": "#111111", "tickWidth": 2.2}},
      "y": {"field": "y", "type": "quantitative", "axis": {"orient": "right", "values": [-180,-165,-150,-135,-120,-105,-90,-75,-60,-45,-30,-15,0,15,30], "labels": false, "title": null, "tickSize": {"condition": {"test": "datum.value % 30 === 0", "value": -14}, "value": -7}, "domainColor": "#111111", "domainWidth": 2.5, "domainCap": "square", "tickColor": "#111111", "tickWidth": 2.2}}}},
    {"data": {"name": "phModel"}, "mark": {"type": "line", "strokeWidth": 3, "clip": true},
     "encoding": {"x": {"field": "x", "type": "quantitative", "axis": null}, "y": {"field": "y", "type": "quantitative", "axis": null},
      "stroke": {"field": "m", "type": "nominal", "scale": {"domain": ["Presente estudo","Hickey et al., 1993, λₓ = 500 km","Hickey et al., 1993, λₓ = 1000 km","Taori & Taylor, 2006"], "range": ["#1e3a8f","#8a45a5","#f36c3b","#5bbb47"]}, "legend": null},
      "strokeDash": {"field": "m", "type": "nominal", "scale": {"domain": ["Presente estudo","Hickey et al., 1993, λₓ = 500 km","Hickey et al., 1993, λₓ = 1000 km","Taori & Taylor, 2006"], "range": [[1,0],[8,4],[16,8],[12,5,2,5]]}, "legend": null}}}
   ]}
 ]}
]}
]
}
